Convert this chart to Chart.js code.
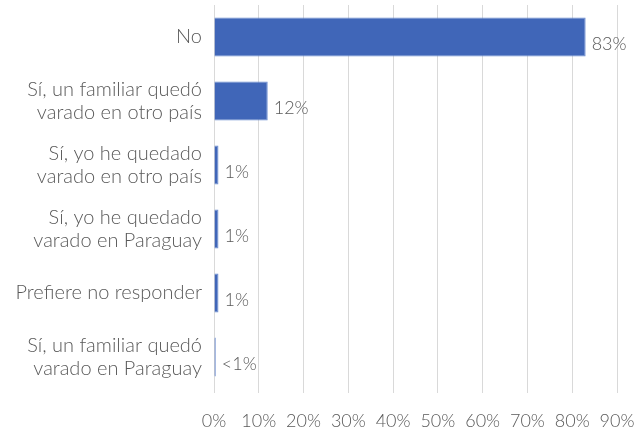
<!DOCTYPE html>
<html>
<head>
<meta charset="utf-8">
<script src="https://cdn.jsdelivr.net/npm/chart.js@4"></script>
<style>
  html, body { margin: 0; padding: 0; background: #fff; }
  #wrap { width: 643px; height: 428px; }
</style>
</head>
<body>
<div id="wrap"><canvas id="varadosChart"></canvas></div>
<script>
// Datos
const categorias = [
    'No',
    ['Sí, un familiar quedó', 'varado en otro país'],
    ['Sí, yo he quedado', 'varado en otro país'],
    ['Sí, yo he quedado', 'varado en Paraguay'],
    'Prefiere no responder',
    ['Sí, un familiar quedó', 'varado en Paraguay']
];
const porcentajes = [83, 12, 1, 1, 1, 0.4];
const etiquetasValor = ['83%', '12%', '1%', '1%', '1%', '<1%'];
const ticksX = [0, 10, 20, 30, 40, 50, 60, 70, 80, 90];

const FUENTE = "'Lato', 'Open Sans', sans-serif";
const GRIS = '#595959';

// Etiquetas de valor al final de cada barra
const etiquetasPlugin = {
    id: 'etiquetasValor',
    afterDatasetsDraw(chart) {
        const ctx = chart.ctx;
        const meta = chart.getDatasetMeta(0);
        ctx.save();
        ctx.font = '300 18px ' + FUENTE;
        ctx.fillStyle = GRIS;
        ctx.textAlign = 'left';
        ctx.textBaseline = 'middle';
        meta.data.forEach(function(bar, i) {
            ctx.fillText(etiquetasValor[i], bar.x + 6, bar.y + 7);
        });
        ctx.restore();
    }
};

new Chart(document.getElementById('varadosChart').getContext('2d'), {
    type: 'bar',
    data: {
        labels: categorias,
        datasets: [{
            data: porcentajes,
            backgroundColor: '#4066b8',
            borderColor: '#6a8bd0',
            borderWidth: 1,
            categoryPercentage: 1,
            barPercentage: 0.61
        }]
    },
    options: {
        indexAxis: 'y',
        responsive: true,
        maintainAspectRatio: false,
        animation: false,
        layout: { padding: { top: 5, right: 26, left: 0, bottom: 0 } },
        plugins: {
            legend: { display: false },
            tooltip: { enabled: false }
        },
        scales: {
            x: {
                min: 0,
                max: 90,
                afterBuildTicks: function(scale) {
                    scale.ticks = ticksX.map(v => ({ value: v }));
                },
                afterFit: function(scale) {
                    scale.height = 39;
                    scale.paddingLeft = 0;
                    scale.paddingRight = 0;
                },
                grid: {
                    color: '#d9d9d9',
                    lineWidth: 1,
                    drawTicks: true,
                    tickLength: 4,
                    tickColor: '#d9d9d9'
                },
                border: { display: false },
                ticks: {
                    color: GRIS,
                    padding: 17,
                    font: { family: FUENTE, size: 18, weight: 300 },
                    maxRotation: 0,
                    callback: function(value) {
                        return value + '%';
                    }
                }
            },
            y: {
                grid: { display: false, drawTicks: false },
                border: { display: false },
                afterFit: function(scale) {
                    scale.width = 214;
                    scale.paddingTop = 0;
                    scale.paddingBottom = 0;
                },
                ticks: {
                    color: GRIS,
                    padding: 12,
                    font: { family: FUENTE, size: 20, weight: 300, lineHeight: 1.15 }
                }
            }
        }
    },
    plugins: [etiquetasPlugin]
});
</script>
</body>
</html>
